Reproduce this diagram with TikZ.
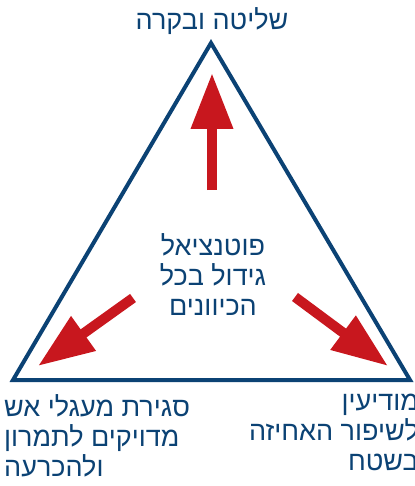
\documentclass[tikz,border=0pt]{standalone}
\usepackage{fontspec}
\newfontfamily\hebfont[Script=Hebrew]{Liberation Sans}
\TeXXeTstate=1
\usetikzlibrary{arrows.meta}
\definecolor{tblue}{HTML}{0B4274}
\definecolor{tred}{HTML}{C8171E}
\begin{document}
\begin{tikzpicture}[x=1pt,y=-1pt,
  lbl/.style={text=tblue,font=\hebfont\fontsize{27}{30}\selectfont,inner sep=0pt},
  tri/.style={draw=tblue,line width=4pt,line join=miter},
  bigarrow/.style={draw=tred,line width=10pt,-{Triangle[width=40pt,length=56pt]}}]
\useasboundingbox (0,0) rectangle (414,486);
\clip (0,0) rectangle (414,486);
\coordinate (apex) at (211,43);
\coordinate (bl) at (13,380);
\coordinate (br) at (410,380);
\draw[tri] (apex) -- (bl) -- (br) -- cycle;
\coordinate (upt) at (212,190);
\coordinate (uph) at (212,73);
\coordinate (lt) at (133,298);
\coordinate (lh) at (38,366);
\coordinate (rt) at (295,297);
\coordinate (rh) at (388,366);
\draw[bigarrow] (upt) -- (uph);
\draw[bigarrow] (lt) -- (lh);
\draw[bigarrow] (rt) -- (rh);
\node[lbl,anchor=base] (top) at (212,30) {\beginR שליטה ובקרה\endR};
\node[lbl,align=center,anchor=base] (mid) at (213,315) {\beginR פוטנציאל\endR\\\beginR גידול בכל\endR\\\beginR הכיוונים\endR};
\node[lbl,align=left,anchor=base west] (left) at (4,476) {\beginR סגירת מעגלי אש\endR\\\beginR מדויקים לתמרון\endR\\\beginR ולהכרעה\endR};
\node[lbl,align=right,anchor=base east] (right) at (419,470) {\beginR מודיעין\endR\\\beginR לשיפור האחיזה\endR\\\beginR בשטח\endR};
\end{tikzpicture}
\end{document}
